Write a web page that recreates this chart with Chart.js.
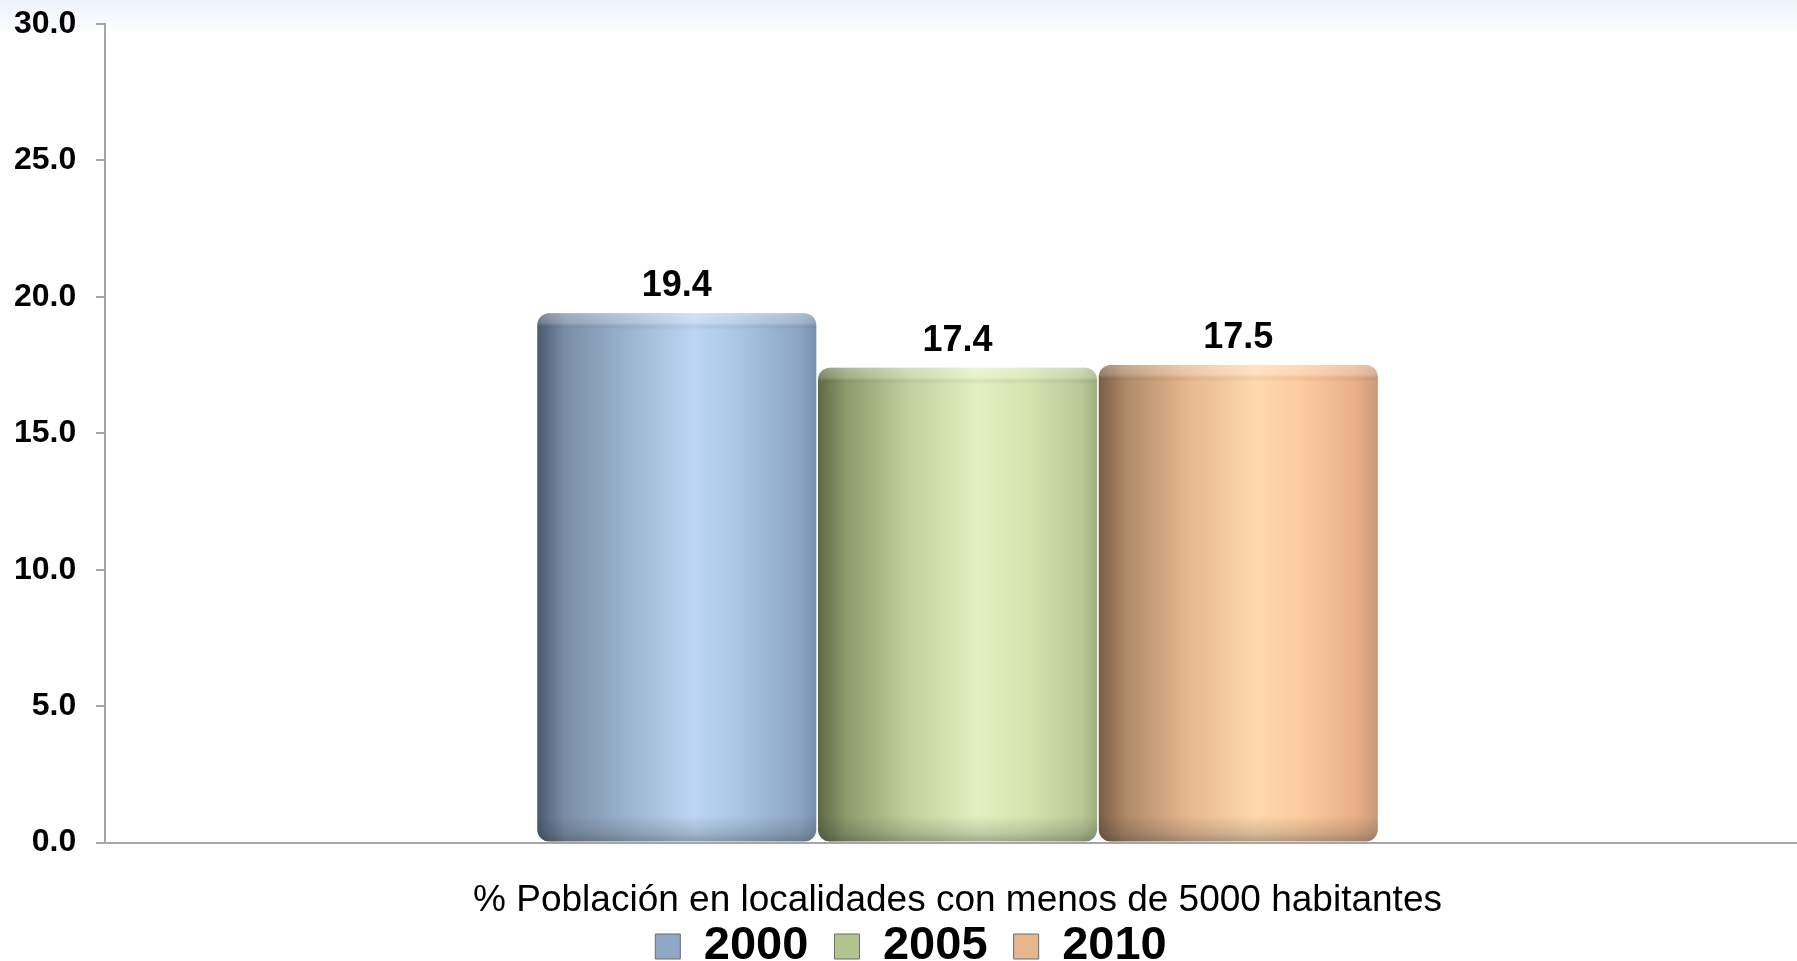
<!DOCTYPE html>
<html>
<head>
<meta charset="utf-8">
<script src="https://cdn.jsdelivr.net/npm/chart.js@4.4.1/dist/chart.umd.min.js"></script>
<style>
  html, body { margin: 0; padding: 0; overflow: hidden; }
  body {
    width: 1797px; height: 961px;
    background: linear-gradient(to bottom, #eef3fb 0px, #f8fafd 22px, #ffffff 34px);
  }
  #wrap { position: absolute; left: 0; top: 0; width: 1810px; height: 980px; }
</style>
</head>
<body>
<div id="wrap"><canvas id="chart" width="1810" height="980"></canvas></div>
<script>
/* ---- data ---- */
const categories = ['% Población en localidades con menos de 5000 habitantes'];
const years      = ['2000', '2005', '2010'];
const values2000 = [19.4];
const values2005 = [17.4];
const values2010 = [17.5];
const yTicks     = [0, 5, 10, 15, 20, 25, 30];

const FONT = "'Liberation Sans', Arial, Helvetica, sans-serif";

// horizontal "cylinder" shading for each series
const BAR_STOPS = [
  [[0, '#4a5a6e'], [0.1, '#7a8ea8'], [0.32, '#9ab3cf'], [0.56, '#bcd6f3'], [0.72, '#aac6e5'], [0.94, '#8ca5c4'], [1, '#7890ae']],
  [[0, '#5d6946'], [0.1, '#8c9b6c'], [0.32, '#c0d09c'], [0.57, '#e3f0c1'], [0.75, '#d6e4b0'], [0.94, '#b9c998'], [1, '#a0b080']],
  [[0, '#7a5c46'], [0.1, '#b08a6a'], [0.32, '#e6b890'], [0.56, '#fed9ad'], [0.72, '#fccc9f'], [0.92, '#e8b088'], [1, '#c89a7a']],
];
const SOLID = ['#9ab3cf', '#c0d09c', '#f2c49c'];
const LEGEND_FILL = ['#8ea8c6', '#b3c48e', '#e6b68e'];

function barFill(ctx) {
  const el = ctx.chart.getDatasetMeta(ctx.datasetIndex).data[ctx.dataIndex];
  if (!el || !el.width) return SOLID[ctx.datasetIndex];
  const x0 = el.x - el.width / 2, x1 = el.x + el.width / 2;
  const g = ctx.chart.ctx.createLinearGradient(x0, 0, x1, 0);
  BAR_STOPS[ctx.datasetIndex].forEach(([o, c]) => g.addColorStop(o, c));
  return g;
}

// top cap highlight and bottom shadow on each bar
const bevelPlugin = {
  id: 'bevel',
  afterDatasetsDraw(chart) {
    const c = chart.ctx;
    chart.data.datasets.forEach((ds, di) => {
      chart.getDatasetMeta(di).data.forEach(el => {
        const x0 = el.x - el.width / 2, top = el.y, bottom = el.base;
        c.save();
        c.beginPath();
        c.roundRect(x0, top, el.width, bottom - top, 12);
        c.clip();
        let g = c.createLinearGradient(0, top, 0, top + 18);
        g.addColorStop(0, 'rgba(255,255,255,0.30)');
        g.addColorStop(0.55, 'rgba(255,255,255,0.18)');
        g.addColorStop(0.8, 'rgba(60,60,60,0.06)');
        g.addColorStop(1, 'rgba(255,255,255,0)');
        c.fillStyle = g;
        c.fillRect(x0, top, el.width, 18);
        g = c.createLinearGradient(0, bottom - 26, 0, bottom);
        g.addColorStop(0, 'rgba(40,40,40,0)');
        g.addColorStop(0.7, 'rgba(40,40,40,0.18)');
        g.addColorStop(1, 'rgba(40,40,40,0.35)');
        c.fillStyle = g;
        c.fillRect(x0, bottom - 26, el.width, 26);
        c.restore();
      });
    });
  }
};

// value labels above bars
const valueLabels = {
  id: 'valueLabels',
  afterDatasetsDraw(chart) {
    const c = chart.ctx;
    c.save();
    c.font = 'bold 36px ' + FONT;
    c.fillStyle = '#000';
    c.textAlign = 'center';
    c.textBaseline = 'middle';
    chart.data.datasets.forEach((ds, di) => {
      chart.getDatasetMeta(di).data.forEach((el, i) => {
        c.fillText(ds.data[i].toFixed(1), el.x, el.y - 27);
      });
    });
    c.restore();
  }
};

const seriesValues = [values2000, values2005, values2010];

const chart = new Chart(document.getElementById('chart'), {
  type: 'bar',
  data: {
    labels: categories,
    datasets: years.map((y, i) => ({
      label: y,
      data: seriesValues[i],
      backgroundColor: barFill,
      borderWidth: 0,
      borderRadius: 12,
      borderSkipped: false,
      categoryPercentage: 0.494,
      barPercentage: 0.994,
    })),
  },
  options: {
    responsive: false,
    animation: false,
    layout: { padding: { top: 24, left: 12, right: 0, bottom: 0 } },
    plugins: {
      tooltip: { enabled: false },
      legend: {
        position: 'bottom',
        labels: {
          boxWidth: 25,
          boxHeight: 25,
          padding: 0,
          color: '#000',
          font: { family: FONT, size: 47, weight: 'bold' },
          generateLabels: chart => years.map((y, i) => ({
            text: i < years.length - 1 ? y + '  ' : y,
            fillStyle: LEGEND_FILL[i],
            strokeStyle: '#6b6b6b',
            lineWidth: 1,
            datasetIndex: i,
            hidden: false,
          })),
        },
      },
    },
    scales: {
      x: {
        grid: { display: false, drawTicks: false },
        border: { display: true, color: '#a6a6a6', width: 2 },
        ticks: { display: false },
        title: {
          display: true,
          text: categories[0],
          color: '#000',
          padding: { top: 36, bottom: 0 },
          font: { family: FONT, size: 37 },
        },
      },
      y: {
        min: 0,
        max: 30,
        afterBuildTicks: axis => { axis.ticks = yTicks.map(v => ({ value: v })); },
        grid: { display: true, drawOnChartArea: false, drawTicks: true, tickLength: 9, color: '#a6a6a6', lineWidth: 2 },
        border: { display: true, color: '#a6a6a6', width: 2 },
        ticks: {
          color: '#000',
          padding: 2,
          font: { family: FONT, size: 32, weight: 'bold' },
          callback: v => Number(v).toFixed(1) + '  ',
        },
      },
    },
  },
  plugins: [bevelPlugin, valueLabels],
});
// second pass so the gradients can use the laid-out bar geometry
chart.update('none');
</script>
</body>
</html>
